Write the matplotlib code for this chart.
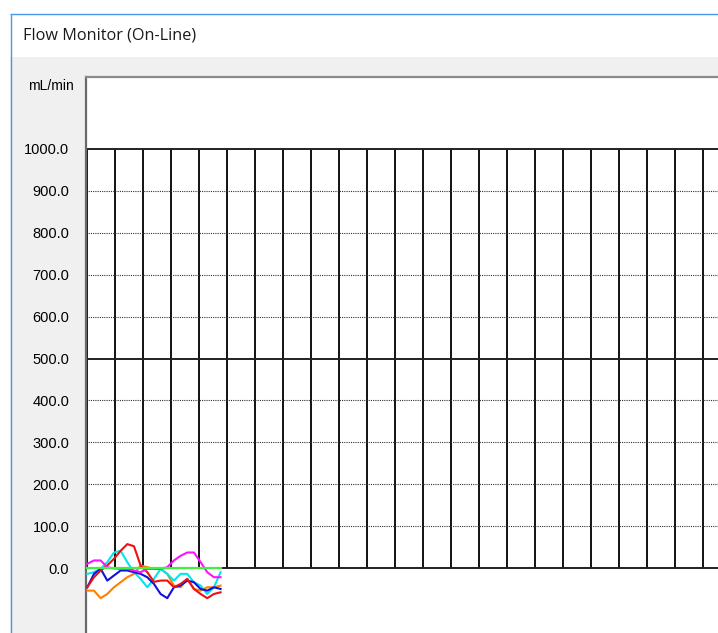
import matplotlib
matplotlib.use("Agg")
import matplotlib.pyplot as plt
from matplotlib.patches import Rectangle
import numpy as np

W, H = 718, 633

# flow readings in mL/min, one sample every 0.238 grid divisions
n_samples = 21
step = 0.238
red = [-46, -22, -6, 6, 22, 41, 57, 52, 6, -10, -33, -30, -30, -46, -38, -26, -50, -62, -72, -62, -58]
blue = [-46, -14, -2, -30, -18, -6, -6, -10, -14, -22, -38, -62, -72, -46, -42, -30, -34, -50, -54, -46, -50]
cyan = [-14, -10, -2, 14, 37, 41, 14, -10, -26, -46, -26, -2, -14, -30, -14, -14, -34, -42, -62, -46, -10]
magenta = [10, 18, 18, 2, -1, -2, -2, -6, -10, -2, -2, -2, 2, 18, 29, 37, 37, 14, -10, -22, -22]
orange = [-54, -54, -72, -62, -46, -34, -22, -14, 6, 2, -2, -2, -14, -42, -46, -26, -50, -54, -46, -46, -42]
green = [0] * n_samples

y_ticks = [0, 100, 200, 300, 400, 500, 600, 700, 800, 900, 1000]
y_labels = ["%.1f" % v for v in y_ticks]
n_cols = 23

t = np.arange(n_samples) * step


def fx(px):
    return px / W


def fy(py):
    return 1 - py / H


fig = plt.figure(figsize=(W / 100, H / 100), dpi=100)
fig.patch.set_facecolor("white")

# window frame: title bar and grey client area
fig.patches.append(Rectangle((fx(10), 0), 1 - fx(10), fy(57), transform=fig.transFigure,
                             facecolor="#f0f0f0", edgecolor="none", zorder=-2))
fig.patches.append(Rectangle((fx(10), fy(13.5)), 1, 0, transform=fig.transFigure,
                             edgecolor="#4a98e6", linewidth=1, zorder=-1))
fig.patches.append(Rectangle((fx(10.5), 0), 0, fy(13.5), transform=fig.transFigure,
                             edgecolor="#4a98e6", linewidth=1, zorder=-1))
fig.text(fx(23), fy(35), "Flow Monitor (On-Line)", fontsize=11.7, family="Open Sans",
         va="center", ha="left", color="#1a1a1a")
fig.text(fx(74), fy(86), "mL/min", fontsize=10, family="Liberation Sans",
         va="center", ha="right", color="black")

# plot area
ax = fig.add_axes([fx(86), 0, 1 - fx(86), fy(77)])
ax.set_facecolor("white")
ax.set_xlim((86 - 87.3) / 28, (718 - 87.3) / 28)
ax.set_ylim(-(633 - 568) / 0.419, (568 - 77) / 0.419)

for side in ["right", "bottom"]:
    ax.spines[side].set_visible(False)
ax.spines["left"].set_color("#6a6a6a")
ax.spines["left"].set_linewidth(1.6)
ax.spines["top"].set_color("#8a8a8a")
ax.spines["top"].set_linewidth(1.6)

ax.vlines(np.arange(n_cols), 0, 1000, color="#111111", linewidth=1.4, zorder=1)
for v in y_ticks:
    if v % 500 == 0:
        ax.axhline(v, color="#222222", linewidth=1.4, zorder=1)
    else:
        ax.axhline(v, color="#333333", linewidth=0.8, linestyle=(0, (1, 1)), zorder=1)

ax.set_xticks([])
ax.set_yticks(y_ticks, y_labels)
ax.tick_params(axis="y", length=0, pad=12, labelsize=10.5)
for lab in ax.get_yticklabels():
    lab.set_family("Liberation Sans")

ax.plot(t, orange, color="#ff8000", linewidth=1.5, zorder=3)
ax.plot(t, cyan, color="#00e5f0", linewidth=1.5, zorder=3)
ax.plot(t, blue, color="#1010e0", linewidth=1.5, zorder=3)
ax.plot(t, red, color="#ee1010", linewidth=1.5, zorder=3)
ax.plot(t, magenta, color="#ff10ff", linewidth=1.5, zorder=3)
ax.plot(t, green, color="#40f040", linewidth=1.6, zorder=4)

fig.savefig("out.png", dpi=100)
